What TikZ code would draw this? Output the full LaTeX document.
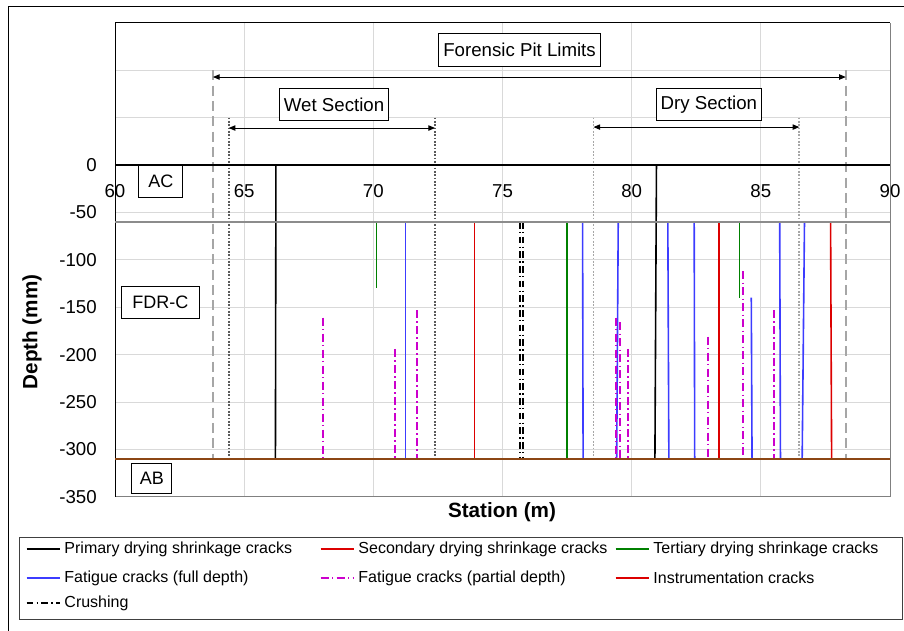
\documentclass[tikz,border=0pt]{standalone}
\usepackage{fontspec}
\setmainfont{Liberation Sans}
\usetikzlibrary{
    positioning,
    arrows.meta
}
\definecolor{crkblue}{RGB}{60,60,255}
\definecolor{crkgreen}{RGB}{0,128,0}
\definecolor{crkred}{RGB}{220,0,0}
\definecolor{crkmag}{RGB}{204,0,204}
\definecolor{abbrown}{RGB}{140,70,20}
\definecolor{gridgray}{RGB}{217,217,217}
\definecolor{limgray}{RGB}{166,166,166}
\definecolor{wetgray}{RGB}{89,89,89}
\definecolor{bndgray}{RGB}{140,140,140}
\tikzset{
    >={Triangle[length=5pt,width=4pt]},
    crack/.style={line width=1.2pt},
    primary/.style={crack, black},
    secondary/.style={crack, crkred},
    tertiary/.style={crack, crkgreen},
    fatfull/.style={crack, crkblue},
    fatpart/.style={line width=1.5pt, crkmag,
        dash pattern=on 6pt off 2.5pt on 1pt off 2.5pt},
    crushing/.style={line width=1.3pt, black,
        dash pattern=on 5pt off 2.5pt on 1pt off 2.5pt},
    instr/.style={crack, crkred},
    gridline/.style={gridgray, line width=0.75pt},
    pitlim/.style={limgray, line width=1.8pt, dash pattern=on 7.5pt off 4pt},
    wetlim/.style={wetgray, line width=1.4pt, dash pattern=on 1.2pt off 1.3pt},
    drylim/.style={limgray, line width=1.4pt, dash pattern=on 1.2pt off 1.3pt},
    spanarrow/.style={<->, black, line width=0.75pt},
    lbl/.style={draw, fill=white, line width=0.75pt, inner xsep=3.5pt,
        minimum height=24.5pt, font=\fontsize{14}{16}\selectfont},
    layerbox/.style={draw, fill=white, line width=0.75pt,
        minimum height=24pt, font=\fontsize{13.5}{16}\selectfont},
    ticklbl/.style={font=\fontsize{14}{16}\selectfont, inner sep=0pt},
    axtitle/.style={font=\fontsize{15.5}{18}\selectfont\bfseries, inner sep=0pt},
    legtext/.style={font=\fontsize{12}{14}\selectfont, anchor=west, inner sep=0pt}
}

\begin{document}
\begin{tikzpicture}[
    x=0.75pt,
    y=-0.75pt
]
    \useasboundingbox (0,0) rectangle (904,631);

    % Marco exterior
    \draw[line width=0.75pt] (8,631) -- (8,7) -- (904,7);

    \begin{scope}[shift={(115,165)}, x=19.375pt, y=0.711pt, shift={(-60,0)}]

        % Rejilla
        \foreach \s in {65,70,...,85}
            \draw[gridline] (\s,-350) -- (\s,150);
        \foreach \d in {100,50,-50,-100,...,-300}
            \draw[gridline] (60,\d) -- (90,\d);
        \draw[line width=0.75pt, gray] (60,-350) -- (90,-350) -- (90,150);
        \draw[line width=0.75pt] (60,-350) -- (60,150) -- (90,150);

        % Limites
        \foreach \s/\t/\sty in {63.79/100/pitlim, 88.29/100/pitlim,
                                64.40/50/wetlim, 72.39/50/wetlim,
                                78.52/50/drylim, 86.49/50/drylim}
            \draw[\sty] (\s,\t) -- (\s,-310);

        \coordinate (pitL) at (63.79,92.8);
        \coordinate (pitR) at (88.29,92.8);
        \coordinate (wetL) at (64.40,39);
        \coordinate (wetR) at (72.39,39);
        \coordinate (dryL) at (78.52,40);
        \coordinate (dryR) at (86.49,40);

        \draw[spanarrow] (pitL) -- (pitR);
        \draw[spanarrow] (wetL) -- (wetR);
        \draw[spanarrow] (dryL) -- (dryR);

        \node[lbl] (pitlbl) at (75.66,121.3) {Forensic Pit Limits};
        \node[lbl] (wetlbl) at (68.48,63.8)  {Wet Section};
        \node[lbl] (drylbl) at (82.99,63.8)  {Dry Section};

        % Grietas
        \foreach \a/\ya/\b/\yb in {66.21/-310/66.23/0, 80.90/-310/80.96/0}
            \draw[primary] (\b,\yb) -- (\a,\ya);
        \foreach \a/\ya/\b/\yb in {73.91/-310/73.91/-60, 87.74/-310/87.70/-60}
            \draw[secondary] (\b,\yb) -- (\a,\ya);
        \foreach \a/\ya/\b/\yb in {83.37/-310/83.37/-60}
            \draw[instr] (\b,\yb) -- (\a,\ya);
        \foreach \a/\ya/\b/\yb in {70.13/-130/70.13/-60, 77.49/-310/77.49/-60,
                                   84.18/-140/84.18/-60}
            \draw[tertiary] (\b,\yb) -- (\a,\ya);
        \foreach \a/\ya/\b/\yb in {71.25/-310/71.25/-60, 78.12/-310/78.10/-60,
                                   79.42/-310/79.48/-60, 81.44/-310/81.40/-60,
                                   82.44/-310/82.42/-60, 84.66/-310/84.63/-140,
                                   85.76/-310/85.73/-60, 86.60/-310/86.69/-60}
            \draw[fatfull] (\b,\yb) -- (\a,\ya);
        \foreach \a/\ya/\b/\yb in {68.05/-310/68.05/-161, 70.83/-310/70.83/-194,
                                   71.69/-310/71.69/-153, 79.39/-310/79.39/-161,
                                   79.56/-310/79.56/-166, 79.87/-310/79.87/-194,
                                   82.94/-310/82.94/-181, 84.32/-310/84.32/-112,
                                   85.51/-310/85.51/-153}
            \draw[fatpart] (\b,\yb) -- (\a,\ya);
        \foreach \a/\ya/\b/\yb in {75.69/-310/75.69/-60, 75.78/-310/75.78/-60}
            \draw[crushing] (\b,\yb) -- (\a,\ya);

        % Capas
        \draw[line width=1.5pt, black] (60,0) -- (90,0);
        \draw[line width=2pt, bndgray] (60,-60) -- (90,-60);
        \draw[line width=1.8pt, abbrown] (60,-310) -- (90,-310);

        \node[layerbox, minimum width=33pt] (ac)  at (61.78,-17.4)  {AC};
        \node[layerbox, minimum width=59pt] (fdr) at (61.76,-145)   {FDR-C};
        \node[layerbox, minimum width=30pt, minimum height=23pt]
                                            (ab)  at (61.43,-330.7) {AB};

        % Ejes
        \foreach \s in {60,65,...,90}
            \node[ticklbl] (xt\s) at (\s,-28) {\s};
        \foreach \d [count=\i] in {0,-50,...,-350}
            \node[ticklbl, anchor=east] (yt\i) at (59.30,\d) {\d};

    \end{scope}

    \node[axtitle, rotate=90] (ytitle) at (32,332) {Depth (mm)};
    \node[axtitle]            (xtitle) at (502,512) {Station (m)};

    % Leyenda
    \draw[line width=0.75pt, black!75] (19.3,537) rectangle (902,619);
    \foreach \x/\y/\sty/\txt [count=\i] in {
        26.7/549/primary/Primary drying shrinkage cracks,
        320.7/549/secondary/Secondary drying shrinkage cracks,
        615.7/549/tertiary/Tertiary drying shrinkage cracks,
        26.7/578/fatfull/Fatigue cracks (full depth),
        320.7/578/fatpart/Fatigue cracks (partial depth),
        615.7/578/instr/Instrumentation cracks,
        26.7/603/crushing/Crushing}
    {
        \draw[\sty, line width=1pt] (\x,\y) -- ++(33.5,0) coordinate (legend\i);
        \node[legtext] (legtxt\i) at ([xshift=3pt]legend\i) {\txt};
    }

\end{tikzpicture}
\end{document}
